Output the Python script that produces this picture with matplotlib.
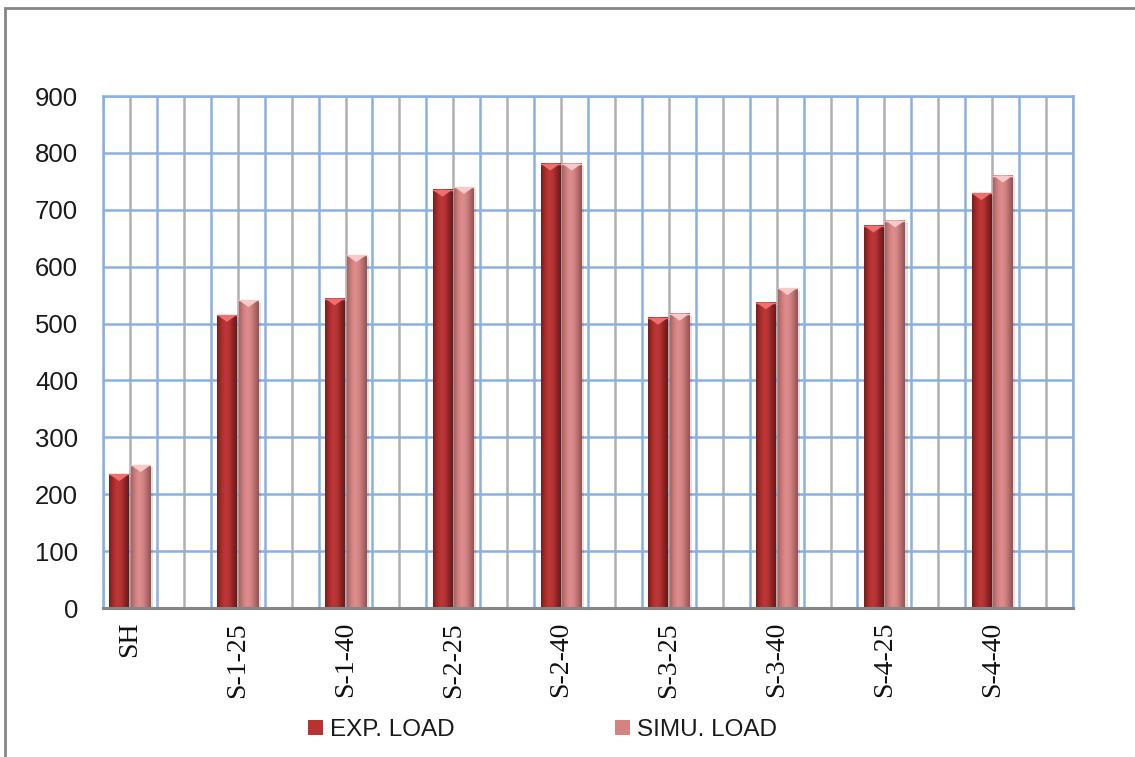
import numpy as np
import matplotlib
matplotlib.use('Agg')
import matplotlib.pyplot as plt
from matplotlib.colors import LinearSegmentedColormap
from matplotlib.patches import Polygon, Rectangle

# 試験体ごとの荷重 (実験値とシミュレーション値)
categories = ['SH', 'S-1-25', 'S-1-40', 'S-2-25', 'S-2-40',
              'S-3-25', 'S-3-40', 'S-4-25', 'S-4-40']
exp_load = [235, 515, 544, 735, 781, 510, 537, 672, 729]
simu_load = [251, 541, 620, 740, 781, 517, 562, 681, 760]
series_names = ['EXP. LOAD', 'SIMU. LOAD']
y_ticks = [0, 100, 200, 300, 400, 500, 600, 700, 800, 900]

blue_grid = '#8ab0e0'
gray_grid = '#b0b0b0'

fig = plt.figure(figsize=(11.35, 7.57), dpi=100)
ax = fig.add_axes([103 / 1135, 1 - 608 / 757, 970 / 1135, 512 / 757])

# 各カテゴリの間に空欄を1つ挟む (18区間)
n_slots = 2 * len(categories)
pos = np.arange(len(categories)) * 2
width = 0.36

# バーのグラデーション
cmap_exp = LinearSegmentedColormap.from_list(
    'exp', ['#7a1c1c', '#a82a2a', '#bd3838', '#b53333', '#8e2424', '#6a1818'])
cmap_simu = LinearSegmentedColormap.from_list(
    'simu', ['#a86262', '#cf7c7c', '#dd8e8e', '#d68585', '#b66c6c', '#8f5252'])
bevel_cols = ['#ee6f6f', '#f7c9c9']
grad = np.linspace(0, 1, 64).reshape(1, -1)

bars_exp = ax.bar(pos - 0.2, exp_load, width, color='#b83232', zorder=3,
                  label=series_names[0])
bars_simu = ax.bar(pos + 0.2, simu_load, width, color='#d48282', zorder=3,
                   label=series_names[1])

for bars, cm, bc in [(bars_exp, cmap_exp, bevel_cols[0]),
                     (bars_simu, cmap_simu, bevel_cols[1])]:
    for b in bars:
        x0, h, w = b.get_x(), b.get_height(), b.get_width()
        # 影
        ax.add_patch(Rectangle((x0 + 0.05, 0), w, h - 4, color='#000000',
                               alpha=0.12, lw=0, zorder=2.8))
        ax.imshow(grad, extent=(x0, x0 + w, 0, h), aspect='auto', cmap=cm,
                  zorder=3.1, interpolation='bicubic')
        # 上部の面取り
        d = 12
        ax.add_patch(Polygon([[x0, h], [x0 + w, h], [x0 + w / 2, h - d]],
                             closed=True, color=bc, lw=0, zorder=3.2))
        ax.plot([x0, x0 + w], [h, h], color=bc, lw=1, zorder=3.3)

ax.set_xlim(-0.5, n_slots - 0.5)
ax.set_ylim(0, 900)

# グリッド: 区切りは青、中心はグレー
for xb in np.arange(-0.5, n_slots, 1.0):
    ax.axvline(xb, color=blue_grid, lw=1.8, zorder=1)
for xc in np.arange(0, n_slots):
    ax.axvline(xc, color=gray_grid, lw=1.8, zorder=0.9)
for yv in y_ticks[1:]:
    ax.axhline(yv, color=blue_grid, lw=1.8, zorder=1)

ax.set_yticks(y_ticks)
ax.set_yticklabels([str(v) for v in y_ticks],
                   family=['Liberation Sans Narrow', 'Liberation Sans'],
                   fontsize=18.5, color='#1a1a1a')
ax.set_xticks(pos)
ax.set_xticklabels(categories, rotation=90, family='Liberation Serif',
                   fontsize=20, color='#111111', va='top')
ax.tick_params(axis='y', length=0, pad=18)
ax.tick_params(axis='x', length=0, pad=10)

for s in ['top', 'right', 'left']:
    ax.spines[s].set_color(blue_grid)
    ax.spines[s].set_linewidth(1.8)
ax.spines['bottom'].set_color('#868686')
ax.spines['bottom'].set_linewidth(2.2)
ax.spines['bottom'].set_zorder(4)

leg = fig.legend(handles=[bars_exp, bars_simu], loc='center',
                 bbox_to_anchor=(0.478, 1 - 730 / 757), ncol=2, frameon=False,
                 handlelength=0.6, handleheight=0.6,
                 handletextpad=0.3, columnspacing=6.6,
                 prop={'family': ['Liberation Sans'], 'size': 17.5})
for t in leg.get_texts():
    t.set_color('#1a1a1a')

# 外枠
fig.patches.append(Rectangle((5 / 1135, -0.2), 1.5, 1.2 - 7.5 / 757,
                             transform=fig.transFigure, fill=False,
                             ec='#868686', lw=2))

fig.savefig('out.png', dpi=100)
